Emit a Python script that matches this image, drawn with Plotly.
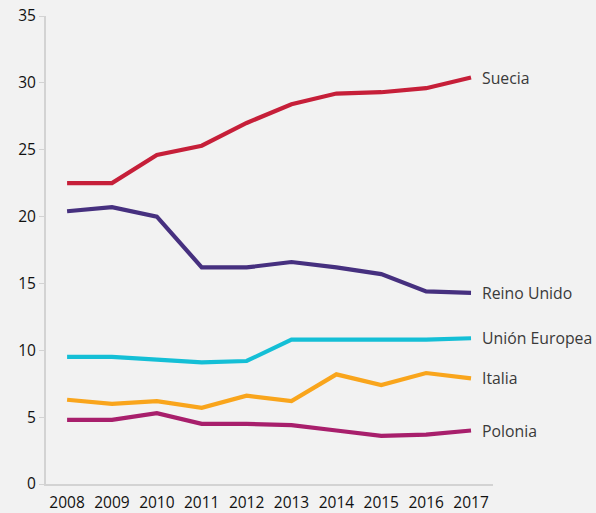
import plotly.graph_objects as go

years = [2008, 2009, 2010, 2011, 2012, 2013, 2014, 2015, 2016, 2017]
suecia = [22.5, 22.5, 24.6, 25.3, 27.0, 28.4, 29.2, 29.3, 29.6, 30.4]
reino_unido = [20.4, 20.7, 20.0, 16.2, 16.2, 16.6, 16.2, 15.7, 14.4, 14.3]
union_europea = [9.5, 9.5, 9.3, 9.1, 9.2, 10.8, 10.8, 10.8, 10.8, 10.9]
italia = [6.3, 6.0, 6.2, 5.7, 6.6, 6.2, 8.2, 7.4, 8.3, 7.9]
polonia = [4.8, 4.8, 5.3, 4.5, 4.5, 4.4, 4.0, 3.6, 3.7, 4.0]

series = [
    ("Suecia", suecia, "#c61f39"),
    ("Reino Unido", reino_unido, "#46307f"),
    ("Unión Europea", union_europea, "#14bfd6"),
    ("Italia", italia, "#f9a51c"),
    ("Polonia", polonia, "#a81f6c"),
]

font_family = "Open Sans, Noto Sans, sans-serif"

fig = go.Figure()
annotations = []
for name, vals, color in series:
    fig.add_trace(go.Scatter(x=years, y=vals, mode="lines", name=name,
                             line=dict(color=color, width=4.2)))
    annotations.append(dict(x=years[-1], y=vals[-1], xref="x", yref="y",
                            text=name, showarrow=False, xanchor="left",
                            yanchor="middle", xshift=9,
                            font=dict(size=15.8, color="#3a3a3a", family=font_family)))

fig.update_layout(
    width=596, height=513,
    paper_bgcolor="#f2f2f2", plot_bgcolor="#f2f2f2",
    margin=dict(l=46, r=103, t=16, b=29, autoexpand=False),
    showlegend=False,
    annotations=annotations,
    font=dict(family=font_family, size=14, color="#1a1a1a"),
)
fig.update_xaxes(range=[2007.53, 2017.49], tickvals=years, showgrid=False,
                 zeroline=False, showline=True, linecolor="#d3d3d3", linewidth=2,
                 ticks="", ticklabelstandoff=3,
                 tickfont=dict(size=15.5, color="#111111"))
fig.update_yaxes(range=[0, 35], dtick=5, showgrid=False, zeroline=False,
                 showline=True, linecolor="#d3d3d3", linewidth=2,
                 ticks="outside", ticklen=5, tickcolor="#d3d3d3",
                 tickfont=dict(size=15.5, color="#111111"))

fig.write_html("out.html", config={"displayModeBar": False},
               post_script="document.body.style.margin='0';document.body.style.overflow='hidden';")
